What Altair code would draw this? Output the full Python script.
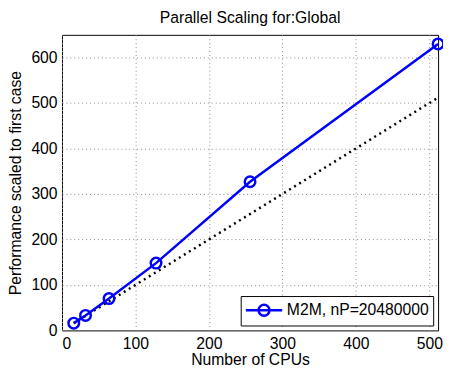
import altair as alt
import pandas as pd

cpus = [16, 32, 64, 128, 256, 512]
perf = [16, 33, 70, 148, 327, 630]
ideal_x = [16, 512]
ideal_y = [16, 512]
series_name = "M2M, nP=20480000"

df = pd.DataFrame({"cpus": cpus, "perf": perf, "series": [series_name] * len(cpus)})
ideal = pd.DataFrame({"cpus": ideal_x, "perf": ideal_y})

FONT = "Liberation Sans"
FS = 16

xs = alt.Scale(domain=[0, 512], nice=False, zero=False)
ys = alt.Scale(domain=[0, 650], nice=False)

xax = alt.Axis(values=[0, 100, 200, 300, 400, 500], title="Number of CPUs",
               grid=True, gridDash=[1, 3], gridColor="#888", tickSize=0,
               labelPadding=5, titlePadding=1, domain=False)
yax = alt.Axis(values=[0, 100, 200, 300, 400, 500, 600],
               title="Performance scaled to first case",
               grid=True, gridDash=[1, 3], gridColor="#888", tickSize=0,
               labelPadding=5, titlePadding=8, domain=False)

ideal_line = alt.Chart(ideal).mark_line(
    color="black", strokeDash=[2, 4], strokeWidth=2.5
).encode(
    x=alt.X("cpus:Q", scale=xs, axis=xax),
    y=alt.Y("perf:Q", scale=ys, axis=yax),
)

# wide line-with-circle glyph, shifted right so it starts at the entry's left edge
legend_sym = "M-1,0L3,0 M0.4,0 A0.6,0.6 0 1,0 1.6,0 A0.6,0.6 0 1,0 0.4,0"

main = alt.Chart(df).mark_line(
    strokeWidth=2.5,
    point=alt.OverlayMarkDef(filled=False, fill="transparent", size=115, strokeWidth=2.5, shape="circle"),
).encode(
    x=alt.X("cpus:Q", scale=xs),
    y=alt.Y("perf:Q", scale=ys),
    color=alt.Color("series:N", scale=alt.Scale(range=["#0000ff"]),
                    legend=alt.Legend(title=None, orient="bottom-right",
                                      strokeColor="black", fillColor="white",
                                      padding=4, offset=5,
                                      symbolType=legend_sym, symbolSize=342,
                                      symbolStrokeWidth=2.5, symbolStrokeColor="#0000ff",
                                      symbolFillColor="transparent",
                                      labelFontSize=FS, labelFont=FONT, labelColor="black",
                                      labelOffset=22)),
)

chart = alt.layer(ideal_line, main).properties(
    width=383, height=301,
    title=alt.TitleParams("Parallel Scaling for:Global", font=FONT, fontSize=FS,
                          fontWeight="normal", offset=8),
    autosize=alt.AutoSizeParams(type="none"),
    padding={"left": 55, "top": 24, "right": 5, "bottom": 38},
).configure_view(
    stroke="black", strokeWidth=1
).configure_axis(
    labelFont=FONT, labelFontSize=FS, labelColor="black",
    titleFont=FONT, titleFontSize=FS, titleFontWeight="normal", titleColor="black",
)

chart.save("out.html", embed_options={"renderer": "svg", "actions": False})
